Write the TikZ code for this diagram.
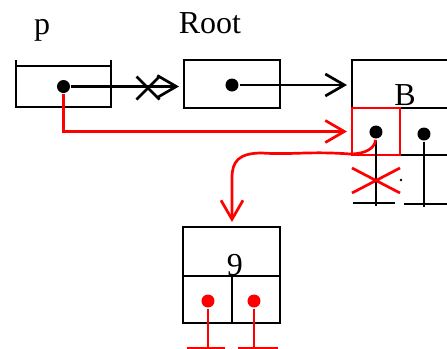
\documentclass[tikz,border=0pt]{standalone}
\usepackage{fontspec}
\setmainfont{Liberation Serif}
\usepackage{tikz}
\usetikzlibrary{shapes.misc, arrows.meta, positioning, calc}

\begin{document}
\begin{tikzpicture}[
    x=0.5pt, y=-0.5pt,
    line width=1.35pt,
    font=\fontsize{16}{19}\selectfont,
    cell/.style={rectangle, draw, inner sep=0pt, outer sep=0pt},
    dot/.style={circle, fill, inner sep=0pt, minimum size=6.5pt},
    cross/.style={cross out, draw, inner sep=0pt, outer sep=0pt},
    arrow/.style={-{Straight Barb[length=9.5pt, width=11pt]}, shorten >=2.5pt},
    lbl/.style={anchor=base, inner sep=0pt}
]
\useasboundingbox (0,0) rectangle (447,349);
\clip (0,0) rectangle (447,349);

% Labels
\node[lbl] (plabel) at (42,34) {p};
\node[lbl] (rootlabel) at (210,33) {Root};

% Pointer p and Root
\node[cell, minimum width=47.5pt, minimum height=20.5pt] (pbox) at (63.5,86.5) {};
\draw (pbox.north west) -- ++(0,-6);
\draw (pbox.north east) -- ++(0,-6);
\node[cell, minimum width=48pt, minimum height=24pt] (rootbox) at (232,84) {};

% Node B
\node[cell, minimum width=60pt, minimum height=24pt] (bbox) at (412,84) {};
\node[lbl] (blabel) at (405,105) {B};
\node[cell, minimum width=36pt, minimum height=23.5pt] (rcell) at (436,131.5) {};
\node[cell, draw=red, minimum width=24pt, minimum height=23.5pt] (lcell) at (376,131.5) {};

% Node 9
\node[cell, minimum width=48.5pt, minimum height=24.5pt] (ninebox) at (231.5,251.5) {};
\node[lbl] (ninelabel) at (235,275) {9};
\node[cell, minimum width=24.5pt, minimum height=23.5pt] (nl) at (207.5,299.5) {};
\node[cell, minimum width=24pt, minimum height=23.5pt] (nr) at (256,299.5) {};

% Dots
\node[dot] (pdot) at (pbox.center) {};
\node[dot] (rootdot) at (232,85) {};
\node[dot] (bdot) at (376,132) {};
\node[dot] (cdot) at (424,134) {};
\node[dot, red] (nldot) at (208,301) {};
\node[dot, red] (nrdot) at (254,301) {};
\node[circle, fill, inner sep=0pt, minimum size=1.3pt] (speck) at (401,180) {};

% Null ends
\coordinate (bgnd) at (376,206);
\coordinate (cgnd) at (424,207);
\coordinate (nlgnd) at (208,352);
\coordinate (nrgnd) at (254,352);
\draw (bdot) -- (bgnd);
\draw (353,203) -- (395,203);
\draw (cdot) -- (cgnd);
\draw (404,204) -- (450,204);
\draw[red] (nldot) -- (nlgnd);
\draw[red] (nrdot) -- (nrgnd);
\draw[red] (187,348) -- (225,348);
\draw[red] (238,348) -- (278,348);
\node[cross, red, minimum width=24pt, minimum height=12.5pt] (bcross) at (376,180.5) {};

% Setas
\draw[arrow] (pdot) -- (pdot -| rootbox.west);
\node[cross, minimum size=11.5pt] (pcross) at (148,88) {};
\draw[arrow] (rootdot) -- (rootdot -| bbox.west);
\draw[arrow, red] (pdot) |- (lcell.west);
\draw[arrow, red] (bdot) .. controls (375,148) and (366,154) .. (350,154)
    .. controls (310,151) and (290,155) .. (262,153)
    .. controls (238,153) and (232,162) .. (232,178) -- (ninebox.north -| 232,0);

\end{tikzpicture}
\end{document}
